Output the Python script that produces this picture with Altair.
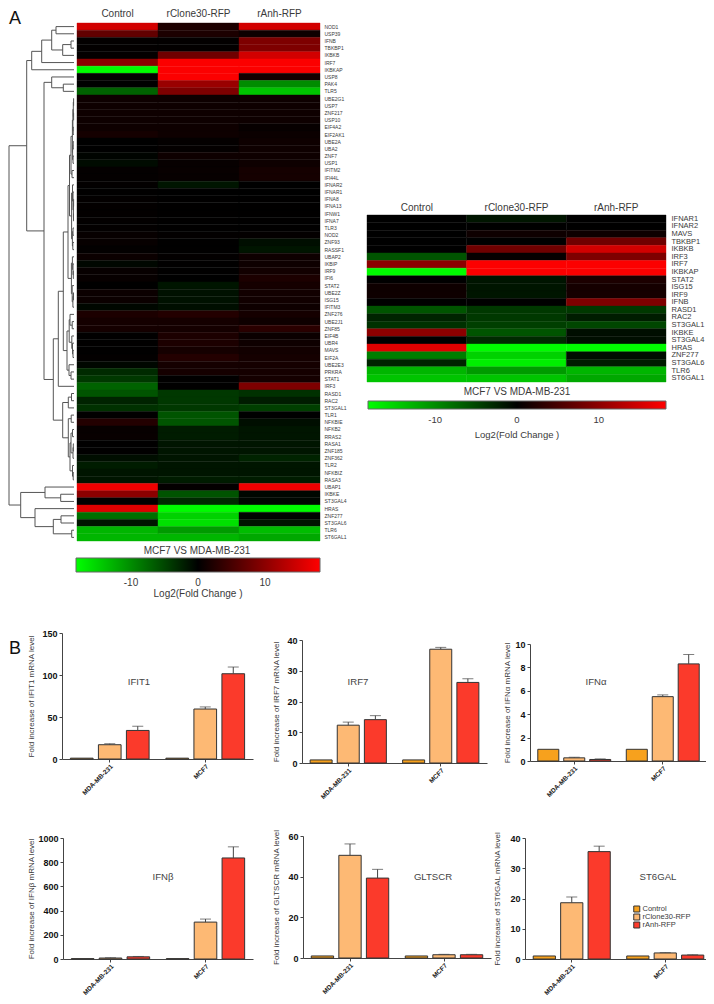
import altair as alt
import pandas as pd

FONT = "Liberation Sans"
TXT = "#3a3a3a"
W, H = 698, 988

# ---------- Panel A heat map ----------
genes_a = ["NOD1","USP39","IFNB","TBKBP1","IKBKB","IRF7","IKBKAP","USP8","PAK4","TLR5",
           "UBE2G1","USP7","ZNF217","USP10","EIF4A2","EIF2AK1","UBE2A","UBA2","ZNF7","USP1",
           "IFITM2","IFI44L","IFNAR2","IFNAR1","IFNA8","IFNA13","IFNW1","IFNA7","TLR3","NOD2",
           "ZNF93","RASSF1","UBAP2","IKBIP","IRF9","IFI6","STAT2","UBE2Z","ISG15","IFITM3",
           "ZNF276","UBE2J1","ZNF85","EIF4B","UBR4","MAVS","EIF2A","UBE2E3","PRKRA","STAT1",
           "IRF3","RASD1","RAC2","ST3GAL1","TLR1","NFKBIE","NFKB2","RRAS2","RASA1","ZNF185",
           "ZNF362","TLR2","NFKBIZ","RASA3","UBAP1","IKBKE","ST3GAL4","HRAS","ZNF277","ST3GAL6",
           "TLR6","ST6GAL1"]
a_control = [15,7,.2,.2,.3,10,-18,.2,0,-7,
             1,1,1,1,1,1.5,0,0,-.3,-.8,
             .3,.3,.2,.1,.2,.2,.2,.2,.2,.5,
             .5,.2,.8,-.5,.5,.5,0,.8,.8,-.5,
             2,1.5,1.5,.1,.1,.1,.2,-.5,-3,-4,
             -7,-6,-2.5,-3.5,.1,2.5,.5,.6,.1,.1,
             -1,-2,-1.5,-1.5,17,10,.2,16,-8,-1.5,
             -13,-13]
a_clone = [2,2,.2,.2,8,18,18,18,11,9,
           1,1,1,1,1,1,.3,.3,1,.5,
           .6,.5,-1.5,0,.1,.1,.1,.1,.1,.2,
           .1,.1,.2,.1,.1,0,-1.5,-1.2,-1.2,-1,
           2.5,1.5,1.5,2,2,1.5,2.5,1.5,1.5,.1,
           .1,-4,-4,-4,-6,-6,-2,-2,-1.5,-1.5,
           -1.5,-1.5,-1.5,-2,.3,-6,-3,-18,-15,-16,
           -11,-13]
a_anh = [15,1,9,9,15,18,18,1.5,-10,-14,
         1,1,1,1,.5,.8,1,1,1,1,
         1.5,1.5,0,0,.1,.1,.1,.1,.1,.3,
         -1,-1.5,1,1,1.3,2,1.5,1.3,1.2,1,
         1.5,1,3,.8,1,1.3,1.5,1.5,1.5,1.5,
         9,-3.5,-2,-4.5,0,-1,-1.5,-1.5,-1.5,-1.5,
         -2.5,-1.5,-1.5,-2,17,-.5,-.5,-18,-.3,-1.5,
         -13.5,-12]

# ---------- Panel A right heat map ----------
genes_b = ["IFNAR1","IFNAR2","MAVS","TBKBP1","IKBKB","IRF3","IRF7","IKBKAP","STAT2","ISG15","IRF9",
           "IFNB","RASD1","RAC2","ST3GAL1","IKBKE","ST3GAL4","HRAS","ZNF277","ST3GAL6","TLR6","ST6GAL1"]
b_control = [0,0,0,0,0,-6,10,-18,0,1,1,0,-6,-2.5,-3.5,10,0,16,-9,-2.5,-13,-14]
b_clone = [-1.5,0,1,0,8,.5,18,18,-1.5,-1.5,-1.5,0,-4,-4,-4.5,-6,-3,-18,-15,-17,-11,-14]
b_anh = [0,0,1,8,15,9,18,18,2,1.5,1.5,9,-4,-2,-5,-1,-1,-18,-1,-2,-13,-12]

treat = ["Control","rClone30-RFP","rAnh-RFP"]

# ---------- Dendrogram: (merge distance, child, child); integers are rows ----------
g1 = (3,(1.6,(1.1,(.7,(.4,10,11),(.4,12,13)),(.8,14,15)),(1.4,(.8,16,17),(1,18,19))),(2,20,21))
g2 = (2.4,(1.5,22,(1,23,(.6,(.4,24,25),(.5,26,27)))),(1.6,(1,28,29),(1.2,30,31)))
g3 = (2.6,(1.6,32,(1,33,(.7,34,35))),(1.8,36,(1.1,(.5,37,38),39)))
g4 = (4,40,(1.8,41,42))
g5 = (2.2,43,(1.5,44,(1,45,46)))
g6 = (5,47,(3,48,49))
mid = (15.7,(10.7,(6,(4.5,g1,g2),g3),(7,(4.8,g4,g5),g6)),50)
low_a = (5.7,(2.5,51,52),53)
low_b = (5.7,(2.8,54,55),(4,(3,(1.5,56,57),(1,(.7,58,59),60)),(1.5,61,(.8,62,63))))
low = (11.3,low_a,low_b)
t1 = (42.3,(32.3,(22.3,(18,0,1),(11.3,(3,2,3),4)),5),6)
t2 = (22.3,7,(10.7,8,9))
upper = (47.3,t1,(30,t2,(20.7,mid,low)))
lower = (53.3,(29,64,(13.3,65,66)),(39,67,(20.7,(13,68,69),(2.3,70,71))))
tree = (65,upper,lower)

h_seg, v_seg = [], []
def walk(n):
    if isinstance(n,int):
        return 0.0, n+.5
    d,a,b = n
    da,ya = walk(a)
    db,yb = walk(b)
    h_seg.append({"x":d,"x2":da,"y":ya})
    h_seg.append({"x":d,"x2":db,"y":yb})
    v_seg.append({"x":d,"y":ya,"y2":yb})
    return d,(ya+yb)/2
walk(tree)

# ---------- Bars ----------
groups = ["MDA-MB-231","MCF7"]
bars = [
 dict(name="IFIT1", yt="Fold increase of  IFIT1 mRNA level", top=150, ticks=[0,50,100,150], tt=-27,
      vals=[1,17,34,1,59.5,101.5], err=[0,1.2,5,0,2.5,8]),
 dict(name="IRF7", yt="Fold increase of  IRF7 mRNA level", top=40, ticks=[0,10,20,30,40], tt=-22,
      vals=[1,12.3,14.1,1,37,26.2], err=[0,1,1.3,0,.6,1.2]),
 dict(name="IFN\u03b1", yt="Fold increase of  IFN\u03b1  mRNA level", top=10, ticks=[0,2,4,6,8,10], tt=-19,
      vals=[1,.27,.13,1,5.5,8.3], err=[0,.05,.05,0,.15,.8]),
 dict(name="IFN\u03b2", yt="Fold increase of  IFN\u03b2  mRNA level", top=1000, ticks=[0,200,400,600,800,1000], tt=-28,
      vals=[3,8,18,3,305,835], err=[0,2,3,0,25,92]),
 dict(name="GLTSCR", yt="Fold increase of  GLTSCR mRNA level", top=60, ticks=[0,20,40,60], tt=-23,
      vals=[1,50.5,39.3,1,1.6,1.6], err=[0,5.6,4.3,0,.2,.2]),
 dict(name="ST6GAL", yt="Fold increase of ST6GAL mRNA level", top=40, ticks=[0,10,20,30,40], tt=-24,
      vals=[1,18.6,35.5,1,2,1.3], err=[0,1.9,1.8,0,.1,.1]),
]
bar_colors = ["#f7a11d","#fdb974","#fb3a2b"]


def label(text, x, y, size, color=TXT, **kw):
    return alt.Chart(pd.DataFrame({"a":[0]})).mark_text(
        text=text, font=FONT, fontSize=size, color=color, **kw
    ).encode(x=alt.value(x), y=alt.value(y))


def heat(genes, c, r, a, x0, x1, y0, y1, lab_size, lab_pad, legend_x, legend_y, thick, length,
         lab_off, head_pad, title_x, title_y, leg_font, title_pad):
    rows = []
    for g, v1, v2, v3 in zip(genes, c, r, a):
        rows += [{"gene":g,"t":treat[0],"v":v1},{"gene":g,"t":treat[1],"v":v2},{"gene":g,"t":treat[2],"v":v3}]
    cs = alt.Scale(domain=[-18.2,0,18.2], range=["#00ff00","#000000","#ff0000"], interpolate="rgb", clamp=True)
    rect = alt.Chart(pd.DataFrame(rows)).mark_rect(strokeWidth=0.4).encode(
        x=alt.X("t:N", sort=treat, scale=alt.Scale(paddingInner=0,paddingOuter=0,range=[x0,x1]),
                axis=alt.Axis(orient="top", offset=-y0, title=None, labelAngle=0, ticks=False, domain=False,
                              labelFontSize=10, labelColor=TXT, labelFont=FONT, labelPadding=head_pad)),
        y=alt.Y("gene:N", sort=genes, scale=alt.Scale(paddingInner=0,paddingOuter=0,range=[y0,y1]),
                axis=alt.Axis(orient="right", offset=x1-W, title=None, ticks=False, domain=False,
                              labelFontSize=lab_size, labelColor=TXT, labelFont=FONT,
                              labelPadding=lab_pad, labelOverlap=False)),
        stroke=alt.Stroke("v:Q", scale=cs, legend=None),
        color=alt.Color("v:Q", scale=cs,
                        legend=alt.Legend(orient="none", legendX=legend_x, legendY=legend_y, direction="horizontal",
                                          gradientLength=length, gradientThickness=thick, gradientStrokeColor="#666",
                                          gradientStrokeWidth=1,
                                          values=[-10,0,10], labelExpr="''+datum.value", labelFontSize=leg_font,
                                          labelColor=TXT, labelFont=FONT, labelOffset=lab_off,
                                          title="Log2(Fold Change )", titleOrient="bottom", titleAnchor="middle",
                                          titleFontSize=leg_font, titleFontWeight="normal", titleColor=TXT,
                                          titleFont=FONT, titlePadding=title_pad)))
    return alt.layer(rect, label("MCF7 VS MDA-MB-231", title_x, title_y, 10))


def dendro():
    xs = alt.Scale(domain=[66,-3], range=[0,69])
    ys = alt.Scale(domain=[0,72], range=[15,533])
    h = alt.Chart(pd.DataFrame(h_seg)).mark_rule(color="#555555", strokeWidth=1).encode(
        x=alt.X("x:Q", scale=xs, axis=None), x2="x2:Q", y=alt.Y("y:Q", scale=ys, axis=None))
    v = alt.Chart(pd.DataFrame(v_seg)).mark_rule(color="#555555", strokeWidth=1).encode(
        x=alt.X("x:Q", scale=xs, axis=None), y=alt.Y("y:Q", scale=ys, axis=None), y2="y2:Q")
    return alt.layer(h, v)


def bar_panel(spec, x0, x1, y0, y1, tx, ty, legend=False):
    rows = []
    i = 0
    for g in groups:
        for t in treat:
            rows.append({"g":g,"t":t,"v":spec["vals"][i],"hi":spec["vals"][i]+spec["err"][i]})
            i += 1
    df = pd.DataFrame(rows)
    x = alt.X("g:N", sort=groups, scale=alt.Scale(paddingInner=0,paddingOuter=0,range=[x0,x1]),
              axis=alt.Axis(orient="bottom", offset=y0-H, title=None, labelAngle=-45, labelFontSize=6.5,
                            labelFontWeight="bold", labelColor="#222", labelFont=FONT, tickSize=3,
                            tickColor="#444", domainColor="#444", domainWidth=1, labelPadding=1))
    off = alt.XOffset("t:N", sort=treat, scale=alt.Scale(paddingInner=.19, paddingOuter=.3))
    ysc = alt.Scale(domain=[0,spec["top"]], nice=False, range=[y0,y1])
    y = alt.Y("v:Q", scale=ysc,
              axis=alt.Axis(orient="left", offset=-x0, values=spec["ticks"], format="d", grid=False, title=spec["yt"],
                            titleFontSize=8, titleFontWeight="normal", titleColor=TXT, titleFont=FONT,
                            titleX=spec["tt"], labelFontSize=9, labelFontWeight="bold", labelColor="#111",
                            labelFont=FONT, tickSize=3, tickColor="#444", domainColor="#444",
                            domainWidth=1, labelPadding=2))
    color = alt.Color("t:N", sort=treat, scale=alt.Scale(domain=treat, range=bar_colors),
                      legend=alt.Legend(orient="none", legendX=625, legendY=897, title=None, symbolType="square",
                                        symbolSize=36, symbolStrokeColor="#333", symbolStrokeWidth=1,
                                        labelFontSize=7.5, labelColor=TXT, labelFont=FONT, rowPadding=0,
                                        clipHeight=8, labelOffset=2) if legend else None)
    b = alt.Chart(df).mark_bar(stroke="#333333", strokeWidth=1).encode(x=x, xOffset=off, y=y, color=color)
    e = df[df.hi > df.v]
    r = alt.Chart(e).mark_rule(color="#444444", strokeWidth=1).encode(
        x=x, xOffset=off, y=alt.Y("hi:Q", scale=ysc), y2="v:Q")
    t = alt.Chart(e).mark_tick(color="#444444", size=11, thickness=1).encode(
        x=x, xOffset=off, y=alt.Y("hi:Q", scale=ysc))
    return alt.layer(b, r, t, label(spec["name"], tx, ty, 9.6, "#444444"))


layers = [
    dendro(),
    heat(genes_a, a_control, a_clone, a_anh, 69, 312, 15, 533, 5, 4, 68, 550, 14, 244, 6, 5, 189, 543, 10, 1),
    heat(genes_b, b_control, b_clone, b_anh, 359, 658, 207, 374, 7.5, 5, 360, 393, 8, 298, 6, 3, 509, 384, 9.5, 5),
    bar_panel(bars[0], 54, 245, 751, 625, 131, 674),
    bar_panel(bars[1], 294, 479, 755, 632, 350, 674),
    bar_panel(bars[2], 522, 699, 753, 636, 588, 674),
    bar_panel(bars[3], 55, 245, 951, 830, 155, 869),
    bar_panel(bars[4], 295, 483, 950, 828, 425, 869),
    bar_panel(bars[5], 517, 704, 951, 830, 650, 869, legend=True),
    label("A", 1, 2, 18, "#111", align="left", baseline="top"),
    label("B", 1, 632, 18, "#111", align="left", baseline="top"),
]

chart = alt.layer(*layers).resolve_scale(
    x="independent", y="independent", color="independent", xOffset="independent"
).resolve_axis(x="independent", y="independent").resolve_legend(color="independent").properties(
    width=W, height=H, padding=0, autosize=alt.AutoSizeParams(type="none")
).configure(font=FONT).configure_view(stroke=None)

chart.save("out.html", embed_options={"renderer": "svg", "actions": False})
